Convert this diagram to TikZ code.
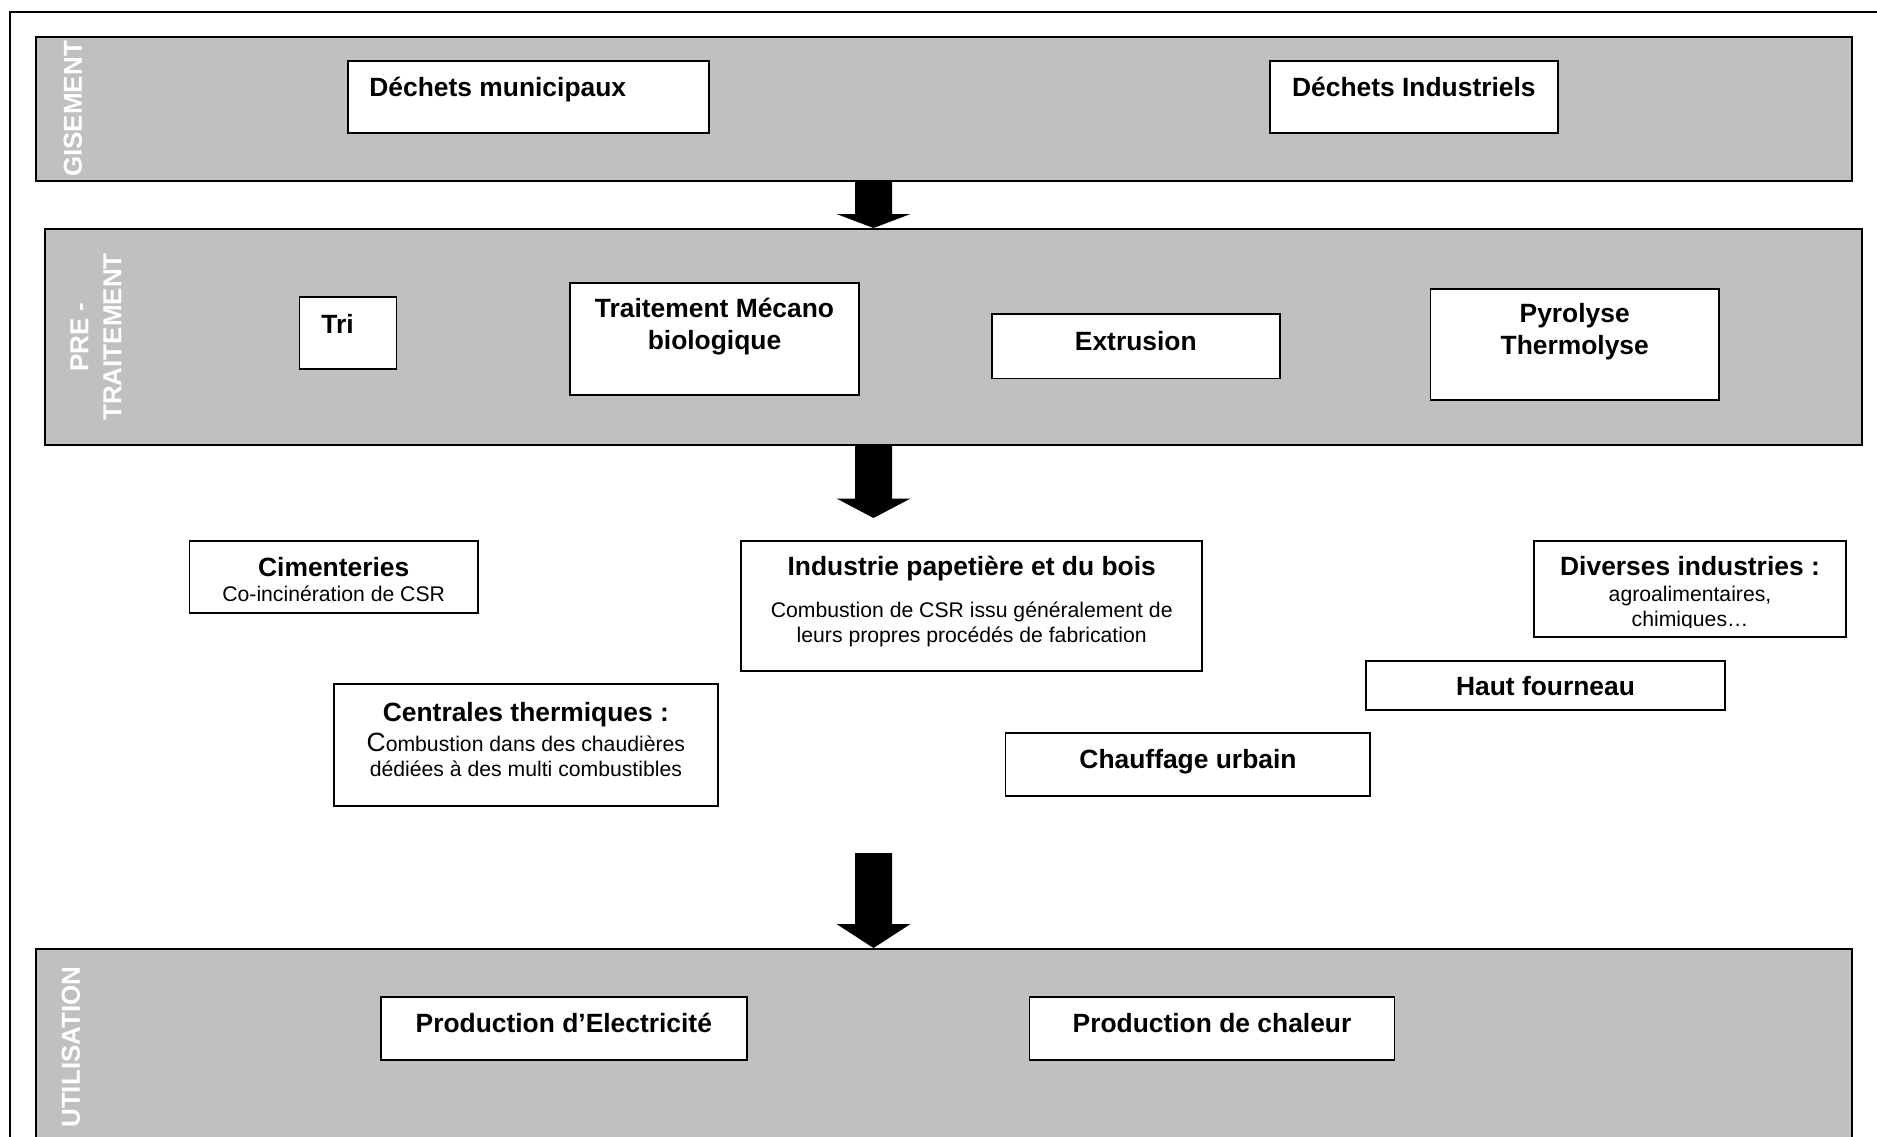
\documentclass[tikz,border=0pt]{standalone}
\usepackage{fontspec}
\setmainfont{Liberation Sans}
\usetikzlibrary{fit,calc}
\definecolor{bandgray}{HTML}{C0C0C0}
\tikzset{
  band/.style={draw=black, line width=1pt, fill=bandgray, inner sep=0pt},
  card/.style={draw=black, line width=0.9pt, fill=white, inner sep=0pt},
  title/.style={font=\fontsize{13.2pt}{16pt}\selectfont\bfseries, inner sep=0pt, align=center},
  body/.style={font=\fontsize{10.6pt}{12.5pt}\selectfont, inner sep=0pt, align=center},
  bandlabel/.style={font=\fontsize{13pt}{16.5pt}\selectfont\bfseries, text=white,
    rotate=90, inner sep=0pt, align=center},
}
% thick block arrow pointing down: #1 start, #2 tip, #3 head length
\newcommand\fatarrow[3]{%
  \fill[black] let \p1=(#1), \p2=(#2) in
    (\x1-9.25pt,\y1) -- (\x1+9.25pt,\y1) -- (\x1+9.25pt,\y2+#3)
    -- (\x1+18.5pt,\y2+#3) -- (\x2,\y2) -- (\x1-18.5pt,\y2+#3)
    -- (\x1-9.25pt,\y2+#3) -- cycle;}

\begin{document}
\begin{tikzpicture}[x=0.5pt,y=-0.5pt]
\clip (0,0) rectangle (1877,1136);
\fill[white] (0,0) rectangle (1877,1136);

% outer frame
\draw[line width=0.7pt] (10,12) rectangle (1885,1150);

% bands
\node[band, fit={(35.5,37) (1852,181)}] (gis) {};
\node[band, fit={(45,229) (1861.5,445)}] (pre) {};
\node[band, fit={(35.5,949) (1852,1160)}] (util) {};

\node[bandlabel] (l-gis) at (73,109) {GISEMENT};
\node[bandlabel] (l-pre) at (96,337) {PRE -\\TRAITEMENT};
\node[bandlabel] (l-util) at (71,1047) {UTILISATION};

% arrows
\coordinate (ax) at (873.5,0);
\coordinate (a2tip) at (873.5,518);
\coordinate (a3top) at (873.5,853);
\fatarrow{gis.south -| ax}{pre.north -| ax}{7pt}
\fatarrow{pre.south -| ax}{a2tip}{9.75pt}
\fatarrow{a3top}{util.north -| ax}{12pt}

% sources
\node[card, fit={(348,61) (708.6,133.3)}] (dm) {};
\node[title, anchor=base west] (t-dm) at (369,96.7) {Déchets municipaux};
\node[card, fit={(1270,60.7) (1558.3,133.3)}] (di) {};
\node[title, anchor=base west] (t-di) at (1291.7,96.7) {Déchets Industriels};

% pre-treatment (multi-line texts are placed by their last baseline)
\node[card, fit={(299.5,296.7) (396.5,369)}] (tri) {};
\node[title, anchor=base west] (t-tri) at (321,333) {Tri};
\node[card, fit={(570,283.3) (859,395)}] (tmb) {};
\node[title, anchor=base] (t-tmb) at (714.5,349.7) {Traitement Mécano\\biologique};
\node[card, fit={(991.7,314) (1280,378.5)}] (ext) {};
\node[title, anchor=base] (t-ext) at (1135.8,350) {Extrusion};
\node[card, fit={(1430.5,288.7) (1719,400)}] (pyr) {};
\node[title, anchor=base] (t-pyr) at (1574.7,354.5) {Pyrolyse\\Thermolyse};

% outlets
\node[card, fit={(189.4,540.7) (478,613.3)}] (cim) {};
\node[title, anchor=base] (t-cim) at (333.7,576) {Cimenteries};
\node[body, anchor=base] (b-cim) at (333.7,601.7) {Co-incinération de CSR};

\node[card, fit={(741.3,540.7) (1202,670.7)}] (ind) {};
\node[title, anchor=base] (t-ind) at (971.7,575) {Industrie papetière et du bois};
\node[body, anchor=base] (b-ind) at (971.7,642.3) {Combustion de CSR issu généralement de\\leurs propres procédés de fabrication};

\node[card, fit={(1534,540.7) (1846,637.3)}] (div) {};
\node[title, anchor=base] (t-div) at (1690,575) {Diverses industries :};
\begin{scope}
  \clip (1534,540) rectangle (1846,627.5);
  \node[body, anchor=base] (b-div) at (1690,626) {agroalimentaires,\\chimiques…};
\end{scope}

\node[card, fit={(333.7,684.3) (718,805.7)}] (ctr) {};
\node[title, anchor=base] (t-ctr) at (525.9,721) {Centrales thermiques :};
\node[body, anchor=base] (b-ctr) at (525.9,776.7) {{\fontsize{13.2pt}{12.5pt}\selectfont C}ombustion dans des chaudières\\dédiées à des multi combustibles};

\node[card, fit={(1365.8,660.7) (1725.3,709.7)}] (haut) {};
\node[title, anchor=base] (t-haut) at (1545.5,695) {Haut fourneau};

\node[card, fit={(1005.5,732.7) (1370.3,796)}] (chauf) {};
\node[title, anchor=base] (t-chauf) at (1188,768.3) {Chauffage urbain};

% uses
\node[card, fit={(380.6,996.7) (747,1060)}] (elec) {};
\node[title, anchor=base] (t-elec) at (563.8,1032.5) {Production d’Electricité};
\node[card, fit={(1029.4,996.7) (1394.5,1060)}] (chal) {};
\node[title, anchor=base] (t-chal) at (1212,1032.5) {Production de chaleur};
\end{tikzpicture}
\end{document}
